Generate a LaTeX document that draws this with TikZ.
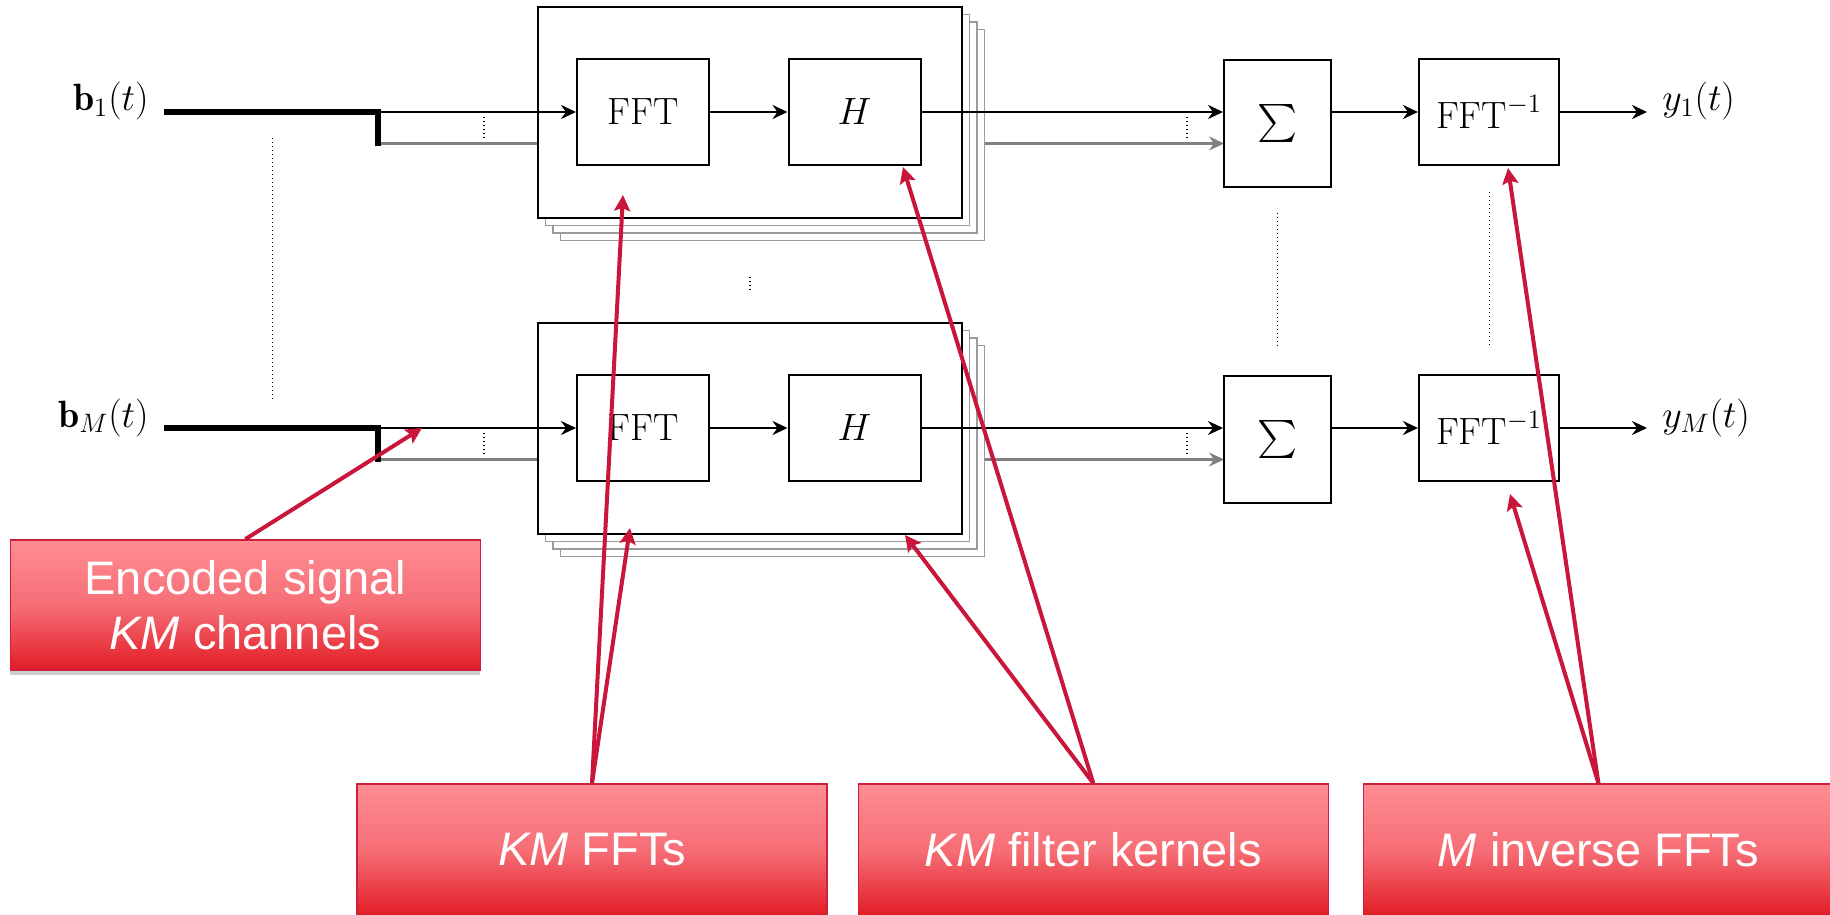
\RequirePackage{fix-cm}
\documentclass[tikz,border=0pt]{standalone}
\usepackage{fontspec}
\newfontfamily\calloutfont{Liberation Sans}
\usetikzlibrary{arrows.meta,shadows}
% large operators scale with the text size
\DeclareFontShape{OMX}{cmex}{m}{n}{<->cmex10}{}

\definecolor{pointer}{RGB}{201,22,58}
\definecolor{calloutedge}{RGB}{205,32,62}
\definecolor{callouttop}{RGB}{255,141,147}
\definecolor{calloutmid}{RGB}{246,110,118}
\definecolor{calloutbot}{RGB}{226,28,38}
\definecolor{wire}{RGB}{128,128,128}
\definecolor{layer}{RGB}{155,155,155}

\begin{document}
\begin{tikzpicture}[x=0.5pt,y=-0.5pt,
  mathtext/.style={font=\fontsize{19}{23}\selectfont},
  block/.style={draw,line width=1pt,fill=white,inner sep=0pt,
    minimum width=66pt,minimum height=53pt,mathtext},
  group/.style={draw,line width=1pt,fill=white,inner sep=0pt,
    minimum width=212pt,minimum height=105.5pt},
  layerbox/.style={draw=layer,line width=0.9pt,fill=white,inner sep=0pt,
    minimum width=212pt,minimum height=105.5pt},
  sig/.style={line width=1.4pt,-{Stealth[length=7.5pt,width=7pt,inset=2.5pt]}},
  graysig/.style={sig,draw=wire},
  bus/.style={line width=2.8pt,line join=miter},
  gap/.style={line width=0.6pt,dash pattern=on 0.6pt off 1.4pt},
  lbl/.style={mathtext,inner sep=0pt},
  callout/.style={draw=calloutedge,line width=0.8pt,
    top color=callouttop,bottom color=calloutbot,middle color=calloutmid,
    text=white,align=center,inner sep=0pt,
    font=\calloutfont\fontsize{23.5}{27.5}\selectfont,
    minimum width=235pt,
    drop shadow={shadow xshift=0pt,shadow yshift=-2.5pt,opacity=0.2,fill=black}},
  pointerarrow/.style={draw=pointer,line width=2pt,
    -{Stealth[length=8pt,width=8pt,inset=1.5pt]}}
]
\useasboundingbox (0,0) rectangle (1830,915);
\clip (0,0) rectangle (1830,915);

% ---------- channel rows: row 1 at y=112, row M at y=428 ----------
\foreach \r/\yy in {A/0,B/316}{
  % input split points
  \coordinate (in\r)   at (164,112+\yy);
  \coordinate (jn\r)   at (378,112+\yy);
  \coordinate (jg\r)   at (378,143.5+\yy);
  \coordinate (out\r)  at (1647,112+\yy);

  % second sub-channel (grey) runs behind the filter stacks
  \coordinate (sg\r) at (1224,143.5+\yy);
  \draw[graysig] (jg\r) -- (sg\r);

  % stacked filter banks
  \node[layerbox] (st\r3) at (772.5,135+\yy) {};
  \node[layerbox] (st\r2) at (765,127.5+\yy) {};
  \node[layerbox] (st\r1) at (757.5,120+\yy) {};
  \node[group]    (gr\r)  at (750,112.5+\yy) {};

  \node[block] (fft\r) at (643,112+\yy) {$\mathrm{FFT}$};
  \node[block] (h\r)   at (854.5,112+\yy) {$H$};

  \node[block,minimum width=53.5pt,minimum height=63.5pt] (sum\r) at (1277.5,123.5+\yy) {$\sum$};
  \node[block,minimum width=70pt] (ifft\r) at (1489,112+\yy) {$\mathrm{FFT}^{-1}$};

  % signal path
  \draw[sig] (jn\r) -- (fft\r.west);
  \draw[sig] (fft\r.east) -- (h\r.west);
  \draw[sig] (h\r.east) -- (h\r.east -| sum\r.west);
  \draw[sig] (sum\r.east |- ifft\r.west) -- (ifft\r.west);
  \draw[sig] (ifft\r.east) -- (out\r);

  % thick input bus splitting into the sub-channels
  \draw[bus] (in\r) -- (jn\r) -- ([yshift=-1pt]jg\r);

  % elided sub-channels
  \draw[gap] (484,117+\yy) -- (484,139+\yy);
  \draw[gap] (1187,117+\yy) -- (1187,138+\yy);
}

% input and output labels
\node[lbl,anchor=base east] (lb1) at (149,111) {$\mathbf{b}_1(t)$};
\node[lbl,anchor=base east] (lbM) at (149,427) {$\mathbf{b}_M(t)$};
\node[lbl,anchor=base west] (ly1) at (1662,111) {$y_1(t)$};
\node[lbl,anchor=base west] (lyM) at (1662,427) {$y_M(t)$};

% elided channels between row 1 and row M
\draw[gap] (272.7,138) -- (272.7,399);
\draw[gap] (750,277) -- (750,292);
\draw[gap] (1277.7,213) -- (1277.7,349);
\draw[gap] (1489.3,192) -- (1489.3,348);

% ---------- callouts ----------
\node[callout,minimum height=65pt] (cEnc) at (245.3,605)
  {Encoded signal\\\textit{KM} channels};
\node[callout,minimum height=66pt] (cFFT) at (592,850) {\textit{KM} FFTs};
\node[callout,minimum height=66pt] (cKer) at (1093.3,850) {\textit{KM} filter kernels};
\node[callout,minimum height=66pt] (cInv) at (1598.4,850) {\textit{M} inverse FFTs};

\coordinate (tEnc)  at (422,428);
\coordinate (tFFTa) at (623,195);
\coordinate (tFFTb) at (630,528);
\coordinate (tKera) at (903,167);
\coordinate (tKerb) at (905,535);
\coordinate (tInva) at (1508,168);
\coordinate (tInvb) at (1510,494);

\draw[pointerarrow] (cEnc.north) -- (tEnc);
\draw[pointerarrow] (cFFT.north) -- (tFFTa);
\draw[pointerarrow] (cFFT.north) -- (tFFTb);
\draw[pointerarrow] (cKer.north) -- (tKera);
\draw[pointerarrow] (cKer.north) -- (tKerb);
\draw[pointerarrow] (cInv.north) -- (tInva);
\draw[pointerarrow] (cInv.north) -- (tInvb);
\end{tikzpicture}
\end{document}
